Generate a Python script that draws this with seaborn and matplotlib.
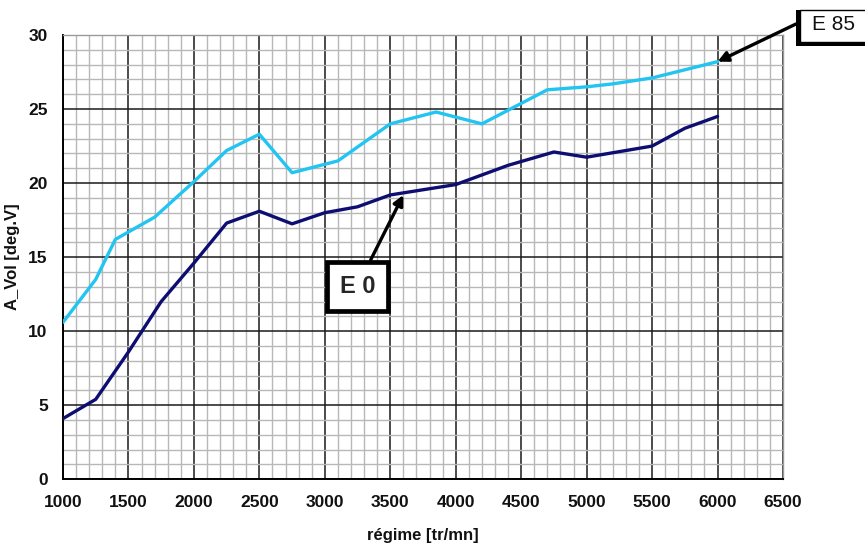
import pandas as pd
import matplotlib
matplotlib.use("Agg")
import matplotlib.pyplot as plt
from matplotlib.patches import Rectangle
from matplotlib.ticker import MultipleLocator
import seaborn as sns

# E 85 curve (light blue)
e85_rpm = [1000, 1250, 1400, 1700, 2000, 2250, 2500, 2750, 3100, 3500, 3850, 4200, 4700, 5000, 5200, 5500, 6000]
e85_avol = [10.6, 13.5, 16.2, 17.7, 20.1, 22.2, 23.3, 20.7, 21.5, 24.0, 24.8, 24.0, 26.3, 26.5, 26.7, 27.1, 28.2]

# E 0 curve (dark blue)
e0_rpm = [1000, 1250, 1500, 1750, 2000, 2250, 2500, 2750, 3000, 3250, 3500, 4000, 4400, 4750, 5000, 5500, 5750, 6000]
e0_avol = [4.1, 5.4, 8.6, 12.0, 14.6, 17.3, 18.1, 17.25, 18.0, 18.4, 19.2, 19.9, 21.2, 22.1, 21.75, 22.5, 23.7, 24.5]

x_ticks = [1000, 1500, 2000, 2500, 3000, 3500, 4000, 4500, 5000, 5500, 6000, 6500]
y_ticks = [0, 5, 10, 15, 20, 25, 30]

sns.set_style("white")
plt.rcParams["font.family"] = ["Liberation Sans", "DejaVu Sans"]

W, H = 865, 549
fig = plt.figure(figsize=(8.65, 5.49), dpi=100)
ax = fig.add_axes([63 / W, 1 - 479.3 / H, (783 - 63) / W, (479.3 - 35) / H])

# grid paper background
ax.xaxis.set_minor_locator(MultipleLocator(100))
ax.yaxis.set_minor_locator(MultipleLocator(1))
ax.grid(which="minor", color="#b8b8b8", linewidth=1.0, zorder=0)
ax.grid(which="major", color="#1a1a1a", linewidth=1.1, zorder=1)
ax.set_axisbelow(True)

df85 = pd.DataFrame({"rpm": e85_rpm, "avol": e85_avol})
df0 = pd.DataFrame({"rpm": e0_rpm, "avol": e0_avol})
sns.lineplot(data=df85, x="rpm", y="avol", ax=ax, color="#22c4f2", linewidth=2.4, zorder=3)
sns.lineplot(data=df0, x="rpm", y="avol", ax=ax, color="#0e0e72", linewidth=2.4, zorder=3)

ax.set_xlim(1000, 6500)
ax.set_ylim(0, 30)
ax.set_xticks(x_ticks)
ax.set_yticks(y_ticks)
ax.tick_params(which="major", direction="out", length=5, width=1.2, color="black", labelsize=12.5, pad=6)
ax.tick_params(which="minor", length=0)
for lab in ax.get_xticklabels() + ax.get_yticklabels():
    lab.set_fontweight("bold")
    lab.set_color("#111111")

for side in ["left", "bottom"]:
    ax.spines[side].set_color("black")
    ax.spines[side].set_linewidth(1.4)
for side in ["top", "right"]:
    ax.spines[side].set_color("#9a9a9a")
    ax.spines[side].set_linewidth(1.0)

ax.set_xlabel("régime [tr/mn]", fontsize=12, fontweight="bold", labelpad=13, color="#111111")
ax.set_ylabel("A_Vol [deg.V]", fontsize=12, fontweight="bold", labelpad=6, color="#111111")

# E 0 callout
ax.annotate("E 0", xy=(3600, 19.2), xytext=(3250, 13.05), fontsize=17, fontweight="bold",
            ha="center", va="center", zorder=5,
            bbox=dict(boxstyle="square,pad=0.55", fc="white", ec="black", lw=3.4),
            arrowprops=dict(arrowstyle="-|>", color="black", lw=2.4, mutation_scale=15,
                            shrinkA=0, shrinkB=0))

# E 85 callout: shadowed box that runs off the right edge
fig.patches.append(Rectangle((796 / W, 1 - 46 / H), 80 / W, 36 / H, transform=fig.transFigure,
                             fc="black", ec="none", zorder=5))
fig.patches.append(Rectangle((800 / W, 1 - 42 / H), 80 / W, 32 / H, transform=fig.transFigure,
                             fc="white", ec="black", lw=1.0, zorder=6))
fig.text(833 / W, 1 - 25 / H, "E 85", fontsize=15, ha="center", va="center", color="#111111", zorder=7)
ax.annotate("", xy=(6000, 28.2), xytext=(796 / W, 1 - 24 / H), textcoords="figure fraction",
            arrowprops=dict(arrowstyle="-|>", color="black", lw=2.4, mutation_scale=15,
                            shrinkA=0, shrinkB=0),
            annotation_clip=False, zorder=5)

fig.savefig("out.png", dpi=100)
